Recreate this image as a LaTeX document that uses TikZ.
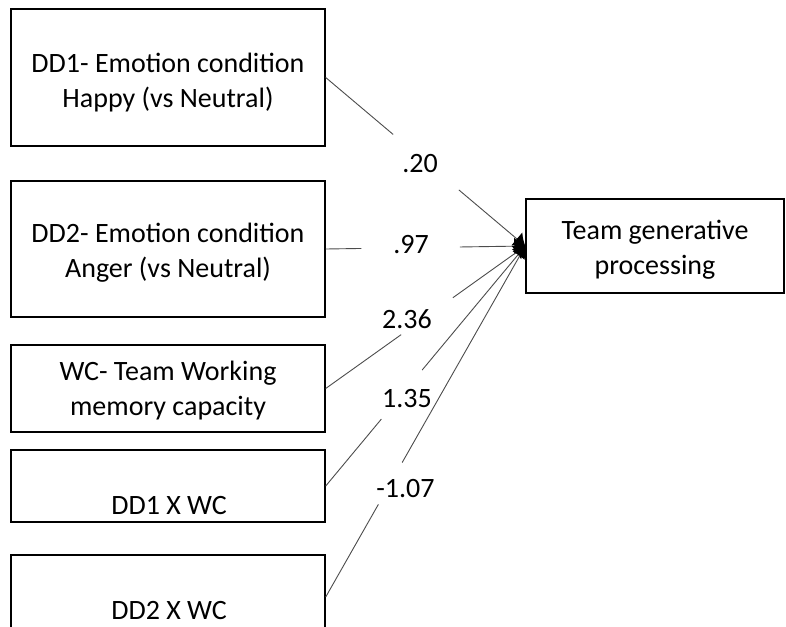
\documentclass[tikz,border=0pt]{standalone}
\usepackage{fontspec}
\setmainfont{Carlito}
\usetikzlibrary{arrows.meta}

\tikzset{
  varbox/.style={draw=black, line width=1.4pt, rectangle, inner sep=0pt,
    minimum width=314pt},
  boxtext/.style={inner sep=0pt, align=center,
    font=\fontsize{28}{35}\selectfont},
  coef/.style={inner sep=0pt, anchor=base, font=\fontsize{28}{34}\selectfont},
  path/.style={draw=black!70, line width=0.9pt},
  pathtip/.style={path, -{Latex[length=11pt,width=17pt,color=black]}},
}

\begin{document}
\begin{tikzpicture}[x=1pt,y=-1pt]
  \useasboundingbox (0,0) rectangle (786,626);
  \clip (0,0) rectangle (786,626);

  % predictor boxes
  \node[varbox, minimum height=137pt] (dd1) at (168,77.5) {};
  \node[boxtext] (dd1t) at (168,82.5) {DD1- Emotion condition\\Happy (vs Neutral)};
  \node[varbox, minimum height=136pt] (dd2) at (168,249) {};
  \node[boxtext] (dd2t) at (168,252.5) {DD2- Emotion condition\\Anger (vs Neutral)};
  \node[varbox, minimum height=87pt] (wc) at (168,388.5) {};
  \node[boxtext] (wct) at (168,390.5) {WC- Team Working\\memory capacity};
  \node[varbox, minimum height=72pt] (x1) at (168,486) {};
  \node[boxtext, anchor=base] (x1t) at (169,514) {DD1 X WC};
  \node[varbox, minimum height=84pt] (x2) at (168,597) {};
  \node[boxtext, anchor=base] (x2t) at (169,619) {DD2 X WC};

  % outcome box
  \node[varbox, minimum width=258pt, minimum height=94pt] (out) at (655,246) {};
  \node[boxtext] (outt) at (655,250) {Team generative\\processing};

  % gap points on each path, left open for the coefficients
  \path (dd1.east) -- (out.west) coordinate[pos=0.338] (g1a) coordinate[pos=0.667] (g1b);
  \path (dd2.east) -- (out.west) coordinate[pos=0.179] (g2a) coordinate[pos=0.672] (g2b);
  \path (wc.east)  -- (out.west) coordinate[pos=0.378] (g3a) coordinate[pos=0.637] (g3b);
  \path (x1.east)  -- (out.west) coordinate[pos=0.279] (g4a) coordinate[pos=0.483] (g4b);
  \path (x2.east)  -- (out.west) coordinate[pos=0.264] (g5a) coordinate[pos=0.383] (g5b);

  % paths
  \draw[path] (dd1.east) -- (g1a);  \draw[pathtip] (g1b) -- (out.west);
  \draw[path] (dd2.east) -- (g2a);  \draw[pathtip] (g2b) -- (out.west);
  \draw[path] (wc.east)  -- (g3a);  \draw[pathtip] (g3b) -- (out.west);
  \draw[path] (x1.east)  -- (g4a);  \draw[pathtip] (g4b) -- (out.west);
  \draw[path] (x2.east)  -- (g5a);  \draw[pathtip] (g5b) -- (out.west);

  % coefficients
  \node[coef] (c1) at (420,172) {.20};
  \node[coef] (c2) at (411,253) {.97};
  \node[coef] (c3) at (407,328) {2.36};
  \node[coef] (c4) at (407,407) {1.35};
  \node[coef] (c5) at (405.5,497) {-1.07};
\end{tikzpicture}
\end{document}
